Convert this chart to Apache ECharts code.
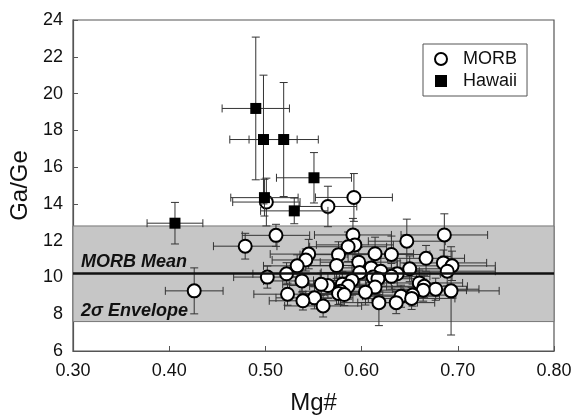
<!DOCTYPE html>
<html>
<head>
<meta charset="utf-8">
<script src="https://cdn.jsdelivr.net/npm/echarts@6/dist/echarts.min.js"></script>
<style>html,body{margin:0;padding:0;background:#fff;}#c{width:576px;height:420px;}</style>
</head>
<body>
<div id="c"></div>
<script>
// MORB data: Mg#, Ga/Ge, x error, y error
const morbX = [0.501,0.565,0.592,0.511,0.479,0.426,0.502,0.591,0.686,0.647,0.593,0.586,0.545,0.576,0.614,0.631,0.542,0.667,0.597,0.533,0.574,0.610,0.685,0.694,0.689,0.650,0.620,0.598,0.637,0.522,0.612,0.617,0.538,0.590,0.631,0.565,0.558,0.580,0.586,0.614,0.660,0.665,0.677,0.693,0.604,0.664,0.578,0.523,0.576,0.582,0.641,0.653,0.652,0.551,0.539,0.618,0.636,0.560];
const morbY = [14.10,13.86,14.35,12.29,11.70,9.27,10.02,12.31,12.31,11.97,11.77,11.67,11.27,11.24,11.29,11.25,10.95,11.04,10.83,10.63,10.65,10.52,10.79,10.63,10.34,10.47,10.34,10.27,10.20,10.20,10.02,9.93,9.81,9.84,10.06,9.56,9.63,9.63,9.52,9.48,9.70,9.52,9.36,9.27,9.20,9.31,9.25,9.09,9.13,9.07,8.98,9.04,8.86,8.89,8.73,8.63,8.63,8.45];
const morbXErr = [0.035,0.030,0.040,0.035,0.033,0.030,0.035,0.040,0.045,0.040,0.040,0.040,0.040,0.040,0.040,0.040,0.035,0.040,0.040,0.035,0.040,0.040,0.045,0.045,0.050,0.045,0.040,0.040,0.045,0.035,0.040,0.040,0.040,0.040,0.040,0.040,0.040,0.040,0.040,0.040,0.045,0.045,0.045,0.050,0.040,0.045,0.040,0.035,0.040,0.040,0.040,0.045,0.045,0.040,0.035,0.040,0.040,0.040];
const morbYErr = [1.30,1.10,1.30,0.60,0.70,1.25,0.60,0.90,1.15,1.20,0.80,0.80,0.80,0.70,0.90,1.00,0.60,0.70,0.80,0.60,0.70,0.80,0.70,0.80,0.80,0.70,0.70,0.80,0.70,0.60,0.70,0.70,0.60,0.80,0.70,0.70,0.60,0.70,0.70,0.70,0.70,0.60,0.60,2.40,0.70,0.60,0.70,0.60,0.60,0.60,0.60,0.60,0.60,0.60,0.50,1.25,0.60,0.60];

// Hawaii data
const hawX = [0.490,0.498,0.519,0.5505,0.499,0.530,0.406];
const hawY = [19.19,17.50,17.50,15.42,14.34,13.62,12.95];
const hawXErr = [0.035,0.035,0.036,0.039,0.035,0.035,0.029];
const hawYErr = [3.88,3.50,3.10,1.37,1.00,0.70,1.13];

// MORB mean and 2-sigma envelope
const morbMean = 10.22;
const envelopeLow = 7.6;
const envelopeHigh = 12.8;

const xTicks = {min: 0.30, max: 0.80, interval: 0.10};
const yTicks = {min: 6, max: 24, interval: 2};

const zip = (xs, ys, xe, ye) => xs.map((x, i) => [x, ys[i], xe[i], ye[i]]);
const morbData = zip(morbX, morbY, morbXErr, morbYErr);
const hawData = zip(hawX, hawY, hawXErr, hawYErr);

function errRender(params, api) {
  const x = api.value(0), y = api.value(1), xe = api.value(2), ye = api.value(3);
  const l = api.coord([x - xe, y]), r = api.coord([x + xe, y]);
  const t = api.coord([x, y + ye]), b = api.coord([x, y - ye]);
  const c = 4;
  const style = {stroke: '#333', lineWidth: 1, fill: null};
  const mk = (x1, y1, x2, y2) => ({type: 'line', shape: {x1, y1, x2, y2}, style});
  return {type: 'group', children: [
    mk(l[0], l[1], r[0], r[1]),
    mk(l[0], l[1] - c, l[0], l[1] + c),
    mk(r[0], r[1] - c, r[0], r[1] + c),
    mk(t[0], t[1], b[0], b[1]),
    mk(t[0] - c, t[1], t[0] + c, t[1]),
    mk(b[0] - c, b[1], b[0] + c, b[1])
  ]};
}

const chart = echarts.init(document.getElementById('c'));
const font = 'Liberation Sans, Arial, sans-serif';
const annoLabel = {fontSize: 18, fontWeight: 'bold', fontStyle: 'italic', color: '#111', fontFamily: font, opacity: 1};
chart.setOption({
  animation: false,
  backgroundColor: '#fff',
  textStyle: {fontFamily: font},
  grid: {left: 73, right: 22, top: 20, bottom: 66, show: true, borderColor: '#555', borderWidth: 1.2, backgroundColor: 'transparent'},
  legend: {
    data: ['MORB', 'Hawaii'],
    orient: 'vertical',
    left: 423, top: 44,
    itemWidth: 12, itemHeight: 12, itemGap: 4,
    padding: [6, 10, 6, 11],
    borderColor: '#555', borderWidth: 1,
    backgroundColor: '#fff',
    textStyle: {fontSize: 18, color: '#111', fontFamily: font, padding: [0, 0, 0, 11]}
  },
  xAxis: {
    type: 'value', min: xTicks.min, max: xTicks.max, interval: xTicks.interval,
    name: 'Mg#', nameLocation: 'middle', nameGap: 40,
    nameTextStyle: {fontSize: 24, color: '#111', fontFamily: font},
    axisLine: {show: true, lineStyle: {color: '#555', width: 1.2}},
    axisTick: {show: true, inside: true, length: 5, lineStyle: {color: '#555'}},
    axisLabel: {fontSize: 18, color: '#111', margin: 11, formatter: v => v.toFixed(2)},
    splitLine: {show: false}
  },
  yAxis: {
    type: 'value', min: yTicks.min, max: yTicks.max, interval: yTicks.interval,
    name: 'Ga/Ge', nameLocation: 'middle', nameGap: 36,
    nameTextStyle: {fontSize: 24, color: '#111', fontFamily: font},
    axisLine: {show: true, lineStyle: {color: '#555', width: 1.2}},
    axisTick: {show: true, inside: true, length: 5, lineStyle: {color: '#555'}},
    axisLabel: {fontSize: 18, color: '#111', margin: 10},
    splitLine: {show: false}
  },
  series: [
    {
      name: 'band', type: 'line', data: [], z: 1, silent: true,
      markArea: {
        silent: true,
        itemStyle: {color: '#c6c6c6', borderColor: '#777', borderWidth: 1},
        data: [[{yAxis: envelopeLow}, {yAxis: envelopeHigh}]]
      },
      markLine: {
        silent: true, symbol: 'none',
        data: [
          {yAxis: morbMean, lineStyle: {color: '#111', width: 2.5, type: 'solid'},
           label: Object.assign({show: true, position: 'insideStartTop', distance: [8, 2], formatter: 'MORB Mean'}, annoLabel)},
          {yAxis: envelopeLow, lineStyle: {color: 'rgba(0,0,0,0)', width: 1, type: 'solid'},
           label: Object.assign({show: true, position: 'insideStartTop', distance: [8, 2], formatter: '2σ Envelope'}, annoLabel)}
        ]
      }
    },
    {name: 'morbErr', type: 'custom', renderItem: errRender, data: morbData, z: 2, silent: true,
     encode: {x: 0, y: 1}},
    {name: 'MORB', type: 'scatter', data: morbData, symbol: 'circle', symbolSize: 13, z: 3,
     itemStyle: {color: '#fff', borderColor: '#000', borderWidth: 2, opacity: 1}},
    {name: 'hawErr', type: 'custom', renderItem: errRender, data: hawData, z: 4, silent: true,
     encode: {x: 0, y: 1}},
    {name: 'Hawaii', type: 'scatter', data: hawData, symbol: 'rect', symbolSize: 11, z: 5,
     itemStyle: {color: '#000', borderColor: '#000', borderWidth: 0, opacity: 1}}
  ]
});
</script>
</body>
</html>
